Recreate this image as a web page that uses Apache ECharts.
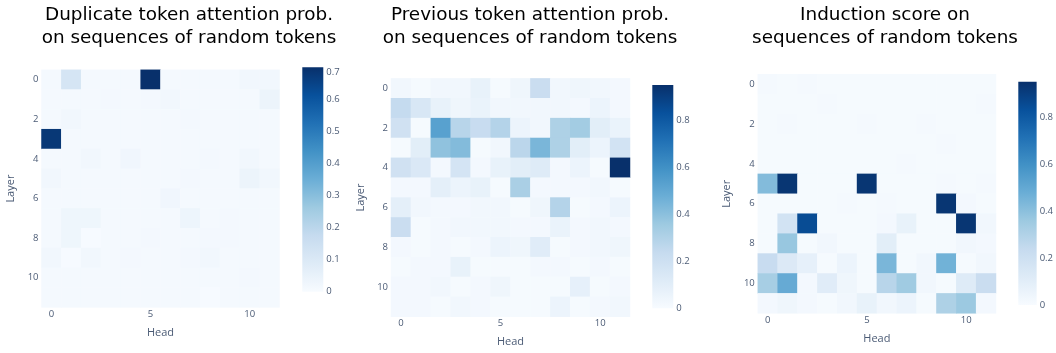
<!DOCTYPE html>
<html>
<head>
<meta charset="utf-8">
<script src="https://cdn.jsdelivr.net/npm/echarts@6/dist/echarts.min.js"></script>
<style>
  html, body { margin: 0; padding: 0; background: #ffffff; }
  #chart { width: 1056px; height: 353px; }
</style>
</head>
<body>
<div id="chart"></div>
<script>
// Layer x Head grids (rows = layers 0..11, columns = heads 0..11)
const heads = ['0','1','2','3','4','5','6','7','8','9','10','11'];
const layers = ['0','1','2','3','4','5','6','7','8','9','10','11'];

const titles = [
  'Duplicate token attention prob.\non sequences of random tokens',
  'Previous token attention prob.\non sequences of random tokens',
  'Induction score on\nsequences of random tokens'
];

const duplicateTokenProb = [
  [0.01, 0.12, 0.01, 0.01, 0.01, 0.70, 0.01, 0.01, 0.01, 0.01, 0.02, 0.02],
  [0.01, 0.01, 0.01, 0.015,0.01, 0.015,0.02, 0.01, 0.01, 0.01, 0.01, 0.04],
  [0.01, 0.02, 0.01, 0.01, 0.01, 0.01, 0.01, 0.015,0.01, 0.01, 0.01, 0.01],
  [0.68, 0.01, 0.01, 0.01, 0.01, 0.01, 0.01, 0.01, 0.01, 0.01, 0.01, 0.01],
  [0.01, 0.01, 0.02, 0.01, 0.025,0.01, 0.01, 0.01, 0.015,0.01, 0.02, 0.01],
  [0.02, 0.01, 0.01, 0.01, 0.01, 0.01, 0.01, 0.015,0.01, 0.01, 0.04, 0.02],
  [0.01, 0.01, 0.01, 0.01, 0.01, 0.01, 0.025,0.01, 0.01, 0.01, 0.01, 0.01],
  [0.01, 0.03, 0.03, 0.01, 0.01, 0.01, 0.01, 0.035,0.01, 0.015,0.01, 0.01],
  [0.01, 0.03, 0.005,0.01, 0.01, 0.015,0.01, 0.01, 0.015,0.015,0.01, 0.01],
  [0.02, 0.005,0.02, 0.01, 0.015,0.01, 0.01, 0.015,0.02, 0.01, 0.01, 0.01],
  [0.01, 0.01, 0.01, 0.01, 0.01, 0.01, 0.01, 0.01, 0.01, 0.01, 0.015,0.01],
  [0.01, 0.01, 0.01, 0.01, 0.01, 0.01, 0.01, 0.01, 0.005,0.01, 0.01, 0.01]
];

const previousTokenProb = [
  [0.03, 0.01, 0.03, 0.03, 0.07, 0.01, 0.04, 0.22, 0.03, 0.04, 0.03, 0.02],
  [0.24, 0.15, 0.07, 0.04, 0.06, 0.03, 0.03, 0.03, 0.03, 0.02, 0.05, 0.02],
  [0.19, 0.01, 0.53, 0.28, 0.23, 0.29, 0.05, 0.03, 0.31, 0.34, 0.10, 0.06],
  [0.01, 0.10, 0.39, 0.42, 0.01, 0.03, 0.27, 0.44, 0.31, 0.10, 0.05, 0.18],
  [0.19, 0.14, 0.02, 0.17, 0.02, 0.07, 0.10, 0.12, 0.02, 0.05, 0.01, 0.95],
  [0.02, 0.02, 0.09, 0.05, 0.07, 0.01, 0.32, 0.02, 0.02, 0.02, 0.03, 0.01],
  [0.09, 0.03, 0.02, 0.02, 0.03, 0.03, 0.01, 0.04, 0.29, 0.01, 0.02, 0.05],
  [0.22, 0.01, 0.02, 0.03, 0.03, 0.03, 0.02, 0.02, 0.06, 0.02, 0.03, 0.02],
  [0.02, 0.01, 0.02, 0.01, 0.02, 0.05, 0.04, 0.11, 0.01, 0.02, 0.03, 0.04],
  [0.01, 0.02, 0.02, 0.07, 0.01, 0.01, 0.01, 0.02, 0.02, 0.01, 0.02, 0.01],
  [0.02, 0.02, 0.03, 0.01, 0.02, 0.04, 0.01, 0.01, 0.01, 0.08, 0.01, 0.02],
  [0.02, 0.02, 0.01, 0.03, 0.02, 0.01, 0.01, 0.01, 0.05, 0.01, 0.02, 0.03]
];

const inductionScore = [
  [0.012, 0.01, 0.012, 0.01, 0.01, 0.01, 0.01, 0.01, 0.01, 0.01, 0.01, 0.01],
  [0.01, 0.01, 0.01, 0.012, 0.01, 0.01, 0.01, 0.01, 0.01, 0.01, 0.01, 0.012],
  [0.01, 0.012, 0.01, 0.01, 0.01, 0.012, 0.01, 0.01, 0.012, 0.01, 0.01, 0.01],
  [0.01, 0.01, 0.01, 0.01, 0.01, 0.01, 0.01, 0.01, 0.01, 0.012, 0.01, 0.01],
  [0.01, 0.01, 0.01, 0.01, 0.01, 0.01, 0.01, 0.012, 0.01, 0.01, 0.01, 0.01],
  [0.42, 0.93, 0.01, 0.01, 0.01, 0.93, 0.01, 0.01, 0.01, 0.015, 0.01, 0.015],
  [0.01, 0.01, 0.01, 0.01, 0.015, 0.01, 0.015, 0.01, 0.01, 0.93, 0.02, 0.01],
  [0.01, 0.18, 0.85, 0.01, 0.01, 0.01, 0.02, 0.07, 0.01, 0.01, 0.93, 0.03],
  [0.01, 0.37, 0.01, 0.03, 0.01, 0.01, 0.10, 0.01, 0.01, 0.01, 0.03, 0.02],
  [0.23, 0.13, 0.08, 0.01, 0.05, 0.01, 0.44, 0.01, 0.03, 0.46, 0.01, 0.03],
  [0.33, 0.49, 0.02, 0.11, 0.04, 0.01, 0.28, 0.35, 0.03, 0.01, 0.12, 0.22],
  [0.02, 0.04, 0.02, 0.01, 0.03, 0.07, 0.03, 0.05, 0.01, 0.31, 0.36, 0.02]
];

const panels = [duplicateTokenProb, previousTokenProb, inductionScore];
const colorbarMax = [0.70, 0.95, 0.95];
const colorbarStep = [0.1, 0.2, 0.2];

// Blues colour scale
const blues = ['#f7fbff','#deebf7','#c6dbef','#9ecae1','#6baed6','#4292c6','#2171b5','#08519c','#08306b'];

// Layout boxes (px)
const heatBoxes = [
  { left: 41.5,  top: 69.8, width: 238,   height: 237.6 },
  { left: 391,   top: 78.4, width: 239,   height: 238.3 },
  { left: 757.8, top: 74.3, width: 238.2, height: 239 }
];
const barBoxes = [
  { left: 302.3,  top: 67.3, width: 21, height: 224.4 },
  { left: 652.3,  top: 85,   width: 21, height: 223.3 },
  { left: 1018.3, top: 81.7, width: 21, height: 223.3 }
];
const titleCenters = [184, 525, 880];

const tickColor = '#4b5b75';
const tickFont = 'Open Sans';

const grid = [], xAxis = [], yAxis = [], series = [], visualMap = [], title = [];

panels.forEach((m, i) => {
  const data = [];
  m.forEach((row, r) => row.forEach((v, c) => data.push([c, r, v])));

  title.push({
    text: titles[i],
    left: titleCenters[i],
    top: -1,
    textAlign: 'center',
    textStyle: { fontFamily: 'DejaVu Sans', fontSize: 18.4, fontWeight: 'normal', color: '#000', lineHeight: 23 }
  });

  // heatmap grid
  grid.push(Object.assign({ containLabel: false }, heatBoxes[i]));
  xAxis.push({
    type: 'category', gridIndex: grid.length - 1, data: heads,
    name: 'Head', nameLocation: 'middle', nameGap: 20,
    nameTextStyle: { color: tickColor, fontFamily: tickFont, fontSize: 11 },
    axisLine: { show: false }, axisTick: { show: false }, splitLine: { show: false },
    axisLabel: { interval: 4, color: tickColor, fontFamily: tickFont, fontSize: 9.5, margin: 2 }
  });
  yAxis.push({
    type: 'category', gridIndex: grid.length - 1, data: layers, inverse: true,
    name: 'Layer', nameLocation: 'middle', nameGap: 25, nameRotate: 90,
    nameTextStyle: { color: tickColor, fontFamily: tickFont, fontSize: 11 },
    axisLine: { show: false }, axisTick: { show: false }, splitLine: { show: false },
    axisLabel: { interval: 1, color: tickColor, fontFamily: tickFont, fontSize: 9.5, margin: 3 }
  });
  const heatIndex = series.length;
  series.push({
    type: 'heatmap', xAxisIndex: xAxis.length - 1, yAxisIndex: yAxis.length - 1,
    data: data, progressive: 0, emphasis: { disabled: true }
  });
  visualMap.push({
    type: 'continuous', show: false, seriesIndex: heatIndex, dimension: 2,
    min: 0, max: colorbarMax[i], inRange: { color: blues }
  });

  // colour bar
  grid.push(Object.assign({ containLabel: false }, barBoxes[i]));
  xAxis.push({
    type: 'category', gridIndex: grid.length - 1, data: ['scale'],
    show: false, boundaryGap: true
  });
  yAxis.push({
    type: 'value', gridIndex: grid.length - 1, position: 'right',
    min: 0, max: colorbarMax[i], interval: colorbarStep[i],
    axisLine: { show: false }, axisTick: { show: false }, splitLine: { show: false },
    axisLabel: {
      color: tickColor, fontFamily: tickFont, fontSize: 9.5, margin: 3,
      showMaxLabel: i === 0, verticalAlignMaxLabel: 'top'
    }
  });
  series.push({
    type: 'bar', xAxisIndex: xAxis.length - 1, yAxisIndex: yAxis.length - 1,
    data: [colorbarMax[i]], barWidth: '100%', silent: true,
    itemStyle: {
      color: {
        type: 'linear', x: 0, y: 1, x2: 0, y2: 0,
        colorStops: blues.map((c, k) => ({ offset: k / (blues.length - 1), color: c }))
      }
    }
  });
});

const chart = echarts.init(document.getElementById('chart'), null, { renderer: 'canvas' });
chart.setOption({
  animation: false,
  backgroundColor: '#ffffff',
  title, grid, xAxis, yAxis, series, visualMap
});
</script>
</body>
</html>
